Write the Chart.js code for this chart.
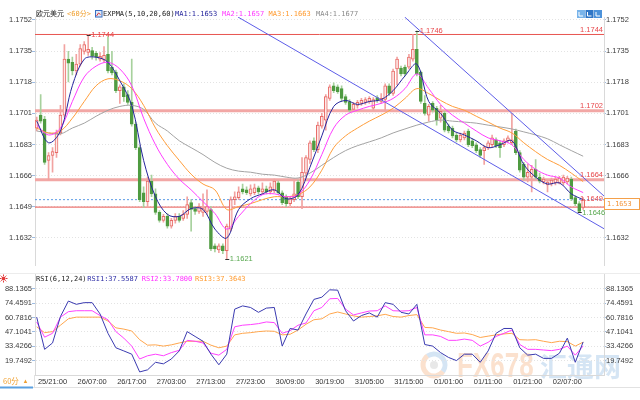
<!DOCTYPE html>
<html><head><meta charset="utf-8">
<script src="https://cdn.jsdelivr.net/npm/chart.js@4"></script>
<style>
html,body{margin:0;padding:0;background:#fff;}
#wrap{position:relative;width:640px;height:400px;overflow:hidden;background:#fff;}
#c1{position:absolute;left:0;top:0;}
#c2{position:absolute;left:0;top:270px;}
</style></head><body>
<div id="wrap"><canvas id="c1" width="640" height="270"></canvas><canvas id="c2" width="640" height="130"></canvas></div>
<script>
// ---------------- DATA ----------------
const pairName = '欧元美元';
const period = '<60分>';
const tickIdx = [4,14,24,34,44,54,64,74,84,94,104,114,124,134];
const tickText = ['25/21:00','26/07:00','26/17:00','27/03:00','27/13:00','27/23:00','30/09:00','30/19:00','31/05:00','31/15:00','01/01:00','01/11:00','01/21:00','02/07:00'];
const priceTicks = [1.1632,1.16491,1.16663,1.16834,1.17006,1.17177,1.17349,1.1752];
const rsiTicks = [19.7492,33.4266,47.1041,60.7816,74.4591,88.1365];

const openP = [
1.16925,1.16996,1.16974,1.16747,1.16774,1.16790,1.16898,1.16996,1.17304,1.17287,
1.17239,1.17277,1.17347,1.17341,1.17352,1.17336,1.17304,1.17298,1.17331,1.17260,
1.17233,1.17131,1.17152,1.17109,1.17066,1.16947,1.16817,1.16569,1.16520,1.16633,
1.16563,1.16461,1.16417,1.16439,1.16385,1.16417,1.16439,1.16428,1.16450,1.16515,
1.16482,1.16466,1.16461,1.16466,1.16477,1.16277,1.16255,1.16277,1.16250,1.16369,
1.16531,1.16542,1.16590,1.16585,1.16563,1.16569,1.16596,1.16574,1.16590,1.16574,
1.16579,1.16623,1.16569,1.16547,1.16509,1.16531,1.16628,1.16547,1.16677,1.16752,
1.16855,1.16806,1.16936,1.16969,1.17088,1.17158,1.17152,1.17142,1.17098,1.17071,
1.17028,1.17050,1.17061,1.17066,1.17071,1.17034,1.17093,1.17071,1.17082,1.17158,
1.17115,1.17250,1.17255,1.17260,1.17260,1.17304,1.17358,1.17233,1.17061,1.16996,
1.17061,1.17034,1.16979,1.17006,1.16936,1.16925,1.16887,1.16860,1.16871,1.16909,
1.16855,1.16833,1.16806,1.16801,1.16817,1.16833,1.16860,1.16844,1.16833,1.16855,
1.16844,1.16909,1.16790,1.16725,1.16655,1.16655,1.16698,1.16655,1.16628,1.16612,
1.16617,1.16623,1.16623,1.16623,1.16628,1.16644,1.16542,1.16509,1.16488];
const highP = [
1.16985,1.17109,1.16990,1.16790,1.16817,1.16914,1.17050,1.17385,1.17347,1.17315,
1.17331,1.17385,1.17401,1.17439,1.17369,1.17347,1.17341,1.17374,1.17428,1.17347,
1.17244,1.17163,1.17169,1.17131,1.17304,1.16958,1.16828,1.16601,1.16655,1.16666,
1.16590,1.16471,1.16450,1.16455,1.16428,1.16455,1.16455,1.16471,1.16547,1.16531,
1.16493,1.16509,1.16563,1.16585,1.16493,1.16288,1.16288,1.16288,1.16396,1.16547,
1.16574,1.16601,1.16617,1.16601,1.16612,1.16617,1.16606,1.16623,1.16606,1.16623,
1.16644,1.16633,1.16579,1.16558,1.16547,1.16639,1.16639,1.16763,1.16774,1.16855,
1.16871,1.16958,1.17006,1.17109,1.17163,1.17174,1.17163,1.17158,1.17109,1.17082,
1.17066,1.17077,1.17088,1.17093,1.17098,1.17093,1.17104,1.17115,1.17169,1.17169,
1.17250,1.17315,1.17266,1.17271,1.17331,1.17439,1.17460,1.17239,1.17104,1.17055,
1.17071,1.17044,1.17050,1.17017,1.16947,1.16936,1.16898,1.16898,1.16909,1.16920,
1.16866,1.16844,1.16817,1.16828,1.16855,1.16887,1.16871,1.16855,1.16866,1.16882,
1.17006,1.16920,1.16801,1.16736,1.16725,1.16720,1.16752,1.16677,1.16655,1.16639,
1.16650,1.16655,1.16660,1.16666,1.16660,1.16655,1.16552,1.16520,1.16542];
const lowP = [
1.16909,1.16952,1.16725,1.16639,1.16682,1.16763,1.16887,1.16985,1.17179,1.17217,
1.17217,1.17266,1.17331,1.17325,1.17304,1.17298,1.17293,1.17287,1.17228,1.17217,
1.17120,1.17061,1.17071,1.17055,1.16936,1.16806,1.16520,1.16488,1.16488,1.16547,
1.16450,1.16407,1.16407,1.16374,1.16374,1.16401,1.16407,1.16417,1.16428,1.16358,
1.16450,1.16455,1.16439,1.16450,1.16250,1.16244,1.16239,1.16234,1.16206,1.16358,
1.16504,1.16531,1.16563,1.16558,1.16552,1.16558,1.16563,1.16563,1.16563,1.16563,
1.16569,1.16558,1.16504,1.16493,1.16498,1.16520,1.16536,1.16482,1.16655,1.16731,
1.16795,1.16790,1.16925,1.16914,1.17077,1.17120,1.17115,1.17071,1.17055,1.17012,
1.17017,1.17034,1.17050,1.17055,1.17061,1.17023,1.17066,1.17061,1.17017,1.17104,
1.17104,1.17163,1.17212,1.17212,1.17250,1.17293,1.17212,1.17061,1.16996,1.16963,
1.17012,1.16941,1.16958,1.16904,1.16898,1.16871,1.16849,1.16849,1.16860,1.16822,
1.16817,1.16790,1.16763,1.16725,1.16806,1.16822,1.16817,1.16763,1.16822,1.16844,
1.16833,1.16779,1.16682,1.16639,1.16628,1.16574,1.16644,1.16623,1.16617,1.16574,
1.16606,1.16612,1.16617,1.16612,1.16617,1.16525,1.16498,1.16461,1.16477];
const closeP = [
1.16969,1.16963,1.16736,1.16774,1.16795,1.16898,1.16996,1.17304,1.17282,1.17239,
1.17277,1.17363,1.17385,1.17358,1.17320,1.17315,1.17320,1.17325,1.17239,1.17228,
1.17131,1.17152,1.17098,1.17066,1.16947,1.16817,1.16531,1.16520,1.16633,1.16563,
1.16461,1.16417,1.16439,1.16385,1.16417,1.16439,1.16417,1.16450,1.16504,1.16477,
1.16466,1.16493,1.16482,1.16493,1.16260,1.16260,1.16277,1.16250,1.16385,1.16531,
1.16547,1.16574,1.16574,1.16569,1.16590,1.16596,1.16574,1.16590,1.16574,1.16601,
1.16633,1.16569,1.16515,1.16509,1.16536,1.16563,1.16547,1.16682,1.16763,1.16844,
1.16806,1.16941,1.16990,1.17098,1.17152,1.17131,1.17125,1.17088,1.17066,1.17023,
1.17055,1.17066,1.17077,1.17082,1.17088,1.17082,1.17077,1.17088,1.17158,1.17115,
1.17239,1.17304,1.17223,1.17223,1.17315,1.17358,1.17223,1.17071,1.17006,1.17044,
1.17023,1.16969,1.17017,1.16914,1.16909,1.16882,1.16860,1.16887,1.16898,1.16833,
1.16828,1.16801,1.16774,1.16817,1.16844,1.16871,1.16828,1.16817,1.16855,1.16871,
1.16860,1.16790,1.16693,1.16655,1.16682,1.16698,1.16655,1.16633,1.16644,1.16628,
1.16639,1.16644,1.16650,1.16655,1.16650,1.16536,1.16509,1.16466,1.16531];

// EXPMA lines, read every 3 bars (bar index = 3*k)
const emaStep = 3;
const ema5 = [1.16963,1.16844,1.16909,1.17158,1.17304,1.17315,1.17287,1.17185,1.17050,1.16747,
1.16547,1.16450,1.16439,1.16482,1.16477,1.16369,1.16320,1.16477,1.16536,1.16563,
1.16585,1.16536,1.16558,1.16709,1.16882,1.17044,1.17077,1.17055,1.17071,1.17082,
1.17131,1.17212,1.17277,1.17071,1.17006,1.16914,1.16887,1.16855,1.16817,1.16833,
1.16855,1.16725,1.16655,1.16617,1.16623,1.16563,1.16531];
const ema10 = [1.16941,1.16887,1.16925,1.17071,1.17206,1.17266,1.17287,1.17250,1.17158,1.16979,
1.16833,1.16725,1.16644,1.16585,1.16520,1.16455,1.16369,1.16439,1.16509,1.16558,
1.16563,1.16547,1.16558,1.16639,1.16779,1.16925,1.16996,1.17023,1.17044,1.17061,
1.17088,1.17142,1.17223,1.17142,1.17055,1.16996,1.16952,1.16909,1.16871,1.16855,
1.16833,1.16752,1.16698,1.16666,1.16650,1.16601,1.16570];
const ema20 = [1.16925,1.16898,1.16909,1.16979,1.17071,1.17158,1.17196,1.17185,1.17142,1.17050,
1.16925,1.16828,1.16747,1.16671,1.16617,1.16585,1.16477,1.16493,1.16509,1.16531,
1.16547,1.16547,1.16558,1.16601,1.16693,1.16817,1.16882,1.16925,1.16963,1.16996,
1.17034,1.17088,1.17142,1.17115,1.17077,1.17044,1.17023,1.16990,1.16958,1.16925,
1.16898,1.16844,1.16795,1.16752,1.16720,1.16677,1.16630];
const ema60 = [1.16909,1.16898,1.16893,1.16925,1.16952,1.16990,1.17023,1.17044,1.17050,1.17028,
1.16952,1.16909,1.16855,1.16817,1.16779,1.16736,1.16704,1.16688,1.16682,1.16671,
1.16666,1.16655,1.16650,1.16677,1.16720,1.16763,1.16801,1.16828,1.16849,1.16871,
1.16898,1.16920,1.16941,1.16958,1.16969,1.16963,1.16958,1.16952,1.16941,1.16931,
1.16920,1.16904,1.16887,1.16866,1.16833,1.16801,1.16770];

// RSI lines, read every 2 bars (bar index = 2*k)
const rsiStep = 2;
const rsi6 = [61.2,30.5,36.6,61.8,76.5,73.4,75.0,75.0,64.2,45.8,
32.0,29.0,25.9,9.0,11.0,18.2,16.7,21.3,29.0,47.4,
42.8,38.2,25.9,15.8,25.9,68.8,71.9,70.4,65.8,69.8,
70.4,33.6,50.4,48.9,64.2,78.1,80.2,87.2,86.9,67.3,
57.5,62.7,65.2,61.2,75.0,73.4,65.8,64.2,73.4,35.1,
33.6,27.4,22.8,19.8,25.9,25.9,18.2,29.0,45.8,50.4,
50.4,32.0,25.0,25.9,21.9,21.9,26.8,41.2,18.2,37.5587];
const rsi12 = [56.6,42.1,45.8,61.2,66.4,67.3,67.3,67.3,62.7,58.7,
47.4,41.2,33.6,21.3,24.4,25.9,24.4,27.4,29.6,39.1,
38.2,36.6,26.8,25.0,30.5,52.0,53.5,54.1,55.0,56.6,
56.0,45.8,48.3,53.5,55.6,67.3,70.4,78.7,79.0,68.8,
63.3,65.2,67.0,67.3,71.9,67.3,67.0,67.3,70.4,44.3,
44.3,42.8,39.1,39.1,40.3,39.1,33.6,37.2,42.8,45.8,
48.9,35.1,30.5,30.5,29.9,29.3,30.5,33.6,25.0,33.78];
const rsi24 = [52.0,46.4,47.4,53.5,59.6,61.2,61.2,61.2,61.2,57.5,
51.0,49.8,48.0,39.7,34.5,34.8,33.6,34.8,36.6,38.2,
38.2,38.2,34.5,32.0,33.6,44.3,45.8,46.4,47.4,48.0,
47.7,44.3,44.9,48.9,54.4,58.7,59.6,64.2,66.1,64.2,
62.4,61.2,61.8,62.4,63.9,61.8,61.2,62.7,63.6,51.4,
51.0,48.9,47.4,45.8,46.1,44.6,41.8,43.1,44.3,45.2,
45.8,39.7,39.4,39.7,38.2,36.9,38.2,37.9,33.6,37.3643];

// support / resistance levels, trend channel (bar index, price)
const levels = [1.1744, 1.1702, 1.1664, 1.1649];
const trendUpper = [[92.93, 1.17536], [143.26, 1.16551]];
const trendLower = [[50.83, 1.17536], [143.26, 1.16371]];
// bars whose extreme is marked
const markHigh = [13, 96];
const markLow = [48, 137];

// ---------------- CHART ----------------
const X_MIN = -0.43, X_MAX = 143.26;
const P_MIN = 1.161686, P_MAX = 1.175362;
const R_MIN = 6.0717, R_MAX = 101.814;
const SANS = '"Liberation Sans", Arial, sans-serif';
const MONO = '"DejaVu Sans Mono", "Noto Sans CJK SC", monospace';
Chart.defaults.font.family = SANS;

const up = closeP.map((c, i) => c >= openP[i]);
const UP_EDGE = '#e86a66', UP_FILL = '#fde9e8', DN = '#4f9b41';
const UP_WICK = '#f2a3a1', DN_WICK = '#a7d19d';
const C_MA1 = '#25259c', C_MA2 = '#ff3cff', C_MA3 = '#ff9d3a', C_MA4 = '#a3a3a3';

const lineDs = (arr, step, color, order) => ({
  type: 'line', data: arr.map((v, k) => ({x: k * step, y: v})),
  borderColor: color, borderWidth: 1, pointRadius: 0, tension: 0.35, fill: false, order
});
const segDs = (pts, color, width, order, dash) => ({
  type: 'line', data: pts.map(p => ({x: p[0], y: p[1]})),
  borderColor: color, borderWidth: width, pointRadius: 0, fill: false, order,
  borderDash: dash || [], tension: 0
});

const lastClose = closeP[closeP.length - 1];
const levelStyle = [['#e85550', 1], ['#f2a7a5', 3], ['#f2a7a5', 3], ['#e85550', 1]];

const yAxisBase = (pos, w) => ({
  position: pos, axis: 'y', min: P_MIN, max: P_MAX,
  afterBuildTicks: s => { s.ticks = priceTicks.map(v => ({value: v})); },
  afterFit: s => { s.width = w; },
  ticks: {callback: v => Number(v).toFixed(4), font: {size: 7.5, family: SANS}, color: '#3c3c3c', padding: 0, autoSkip: false},
  grid: {color: '#e3e3e3', tickColor: '#9fbde3', tickLength: pos === 'left' ? 3 : 2, drawOnChartArea: pos === 'left'},
  border: {display: true, color: '#d9d9d9', dash: [1, 2]}
});

const mainDeco = {
  id: 'mainDeco',
  afterDraw(chart) {
    const {ctx, chartArea: a, scales: {x, y}} = chart;
    ctx.save();
    // level labels
    ctx.font = '7.5px ' + SANS; ctx.textAlign = 'right'; ctx.textBaseline = 'middle';
    levels.forEach((L, k) => {
      const py = y.getPixelForValue(L);
      ctx.fillStyle = '#e8474b';
      ctx.fillText(L.toFixed(4), a.right - 1, py - (k === 3 ? 8 : 4.5));
    });
    // extreme markers
    ctx.textAlign = 'left';
    const mark = (i, v, col) => {
      const px = x.getPixelForValue(i), py = y.getPixelForValue(v);
      ctx.strokeStyle = '#333'; ctx.lineWidth = 1;
      ctx.beginPath(); ctx.moveTo(px - 1.5, Math.round(py) + 0.5); ctx.lineTo(px + 2.5, Math.round(py) + 0.5); ctx.stroke();
      ctx.fillStyle = col; ctx.fillText(v.toFixed(4), px + 3, py + 0.5);
    };
    markHigh.forEach(i => mark(i, highP[i], '#e8474b'));
    markLow.forEach(i => mark(i, lowP[i], '#58a84f'));
    // current price box on right axis
    const cy = Math.round(y.getPixelForValue(lastClose) + 4);
    ctx.fillStyle = '#fff'; ctx.fillRect(a.right + 0.5, cy - 5.5, 35, 11);
    ctx.strokeStyle = '#f4a04a'; ctx.lineWidth = 1; ctx.strokeRect(a.right + 0.5, cy - 5.5, 35, 11);
    ctx.fillStyle = '#f39236'; ctx.font = '6.8px ' + MONO;
    ctx.fillText(lastClose.toFixed(4), a.right + 3, cy + 0.5);
    // title row
    const ty = 14;
    ctx.font = '7px ' + MONO;
    ctx.fillStyle = '#222'; ctx.fillText(pairName, 36, ty);
    ctx.fillStyle = '#f0a030'; ctx.fillText(period, 67, ty);
    ctx.fillStyle = '#dce9f8'; ctx.fillRect(95, 10.5, 7, 7);
    ctx.strokeStyle = '#3b6ec2'; ctx.strokeRect(95.5, 10.5, 6.5, 6.5);
    ctx.strokeStyle = '#d33'; ctx.beginPath(); ctx.moveTo(96.5, 16); ctx.lineTo(98.5, 13); ctx.lineTo(100.5, 14.5); ctx.stroke();
    ctx.fillStyle = '#222'; ctx.fillText('EXPMA(5,10,20,60)', 103, ty);
    const emas = [ema5, ema10, ema20, ema60], cols = [C_MA1, C_MA2, '#ff9a2e', '#8a8a8a'];
    [175, 222, 268.5, 316].forEach((tx, k) => {
      ctx.fillStyle = cols[k];
      ctx.fillText('MA' + (k + 1) + ':' + emas[k][emas[k].length - 1].toFixed(4), tx, ty);
    });
    // top-right tool icons
    [['#79b4ea', 577], ['#2f76c6', 585.5], ['#4c92da', 594]].forEach(([c, ix]) => {
      ctx.fillStyle = c; ctx.fillRect(ix, 10, 8, 8);
      ctx.strokeStyle = '#fff'; ctx.beginPath();
      ctx.moveTo(ix + 2, 12); ctx.lineTo(ix + 2, 16); ctx.lineTo(ix + 6, 16); ctx.stroke();
    });
    ctx.restore();
  }
};

const datasets = [];
levels.forEach((L, k) => datasets.push(segDs([[X_MIN, L], [X_MAX, L]], levelStyle[k][0], levelStyle[k][1], 60)));
datasets.push(segDs([[X_MIN, lastClose], [X_MAX, lastClose]], '#5b9be6', 1, 59, [2, 2]));
datasets.push({
  type: 'bar', data: closeP.map((c, i) => ({x: i, y: [lowP[i], highP[i]]})),
  backgroundColor: up.map(u => u ? UP_WICK : DN_WICK), borderWidth: 0,
  barThickness: 1, grouped: false, minBarLength: 1, order: 40
});
datasets.push({
  type: 'bar', data: closeP.map((c, i) => ({x: i, y: [openP[i], c]})),
  backgroundColor: up.map(u => u ? UP_FILL : DN), borderColor: up.map(u => u ? UP_EDGE : DN),
  borderWidth: 1, borderSkipped: false, barThickness: 3, grouped: false, minBarLength: 1, order: 35
});
datasets.push(lineDs(ema60, emaStep, C_MA4, 30));
datasets.push(lineDs(ema20, emaStep, C_MA3, 29));
datasets.push(lineDs(ema10, emaStep, C_MA2, 28));
datasets.push(lineDs(ema5, emaStep, C_MA1, 27));
datasets.push(segDs(trendUpper, '#5d5de8', 1, 2));
datasets.push(segDs(trendLower, '#5d5de8', 1, 2));

new Chart(document.getElementById('c1'), {
  type: 'bar',
  data: {datasets},
  options: {
    responsive: false, animation: false, devicePixelRatio: 1, events: [],
    layout: {padding: {top: 17, left: 0, right: 0, bottom: 0}},
    plugins: {legend: {display: false}, tooltip: {enabled: false}},
    scales: {
      x: {type: 'linear', min: X_MIN, max: X_MAX, offset: false, display: false},
      y: yAxisBase('left', 35),
      yR: yAxisBase('right', 36)
    }
  },
  plugins: [mainDeco]
});

// ---------------- RSI ----------------
const rAxis = (pos, w) => ({
  position: pos, axis: 'y', min: R_MIN, max: R_MAX,
  afterBuildTicks: s => { s.ticks = rsiTicks.map(v => ({value: v})); },
  afterFit: s => { s.width = w; },
  ticks: {callback: v => Number(v).toFixed(4), font: {size: 7.5, family: SANS}, color: '#3c3c3c', padding: 0, autoSkip: false},
  grid: {color: '#e3e3e3', tickColor: '#9fbde3', tickLength: pos === 'left' ? 3 : 2, drawOnChartArea: pos === 'left'},
  border: {display: true, color: '#d9d9d9', dash: [1, 2]}
});

const rsiDeco = {
  id: 'rsiDeco',
  beforeDraw(chart) {
    const ctx = chart.ctx;
    ctx.save();
    // watermark
    ctx.globalAlpha = 0.33;
    ctx.lineWidth = 5;
    ctx.strokeStyle = '#f3a46b'; ctx.beginPath(); ctx.arc(434, 95, 11, 0.2 * Math.PI, 1.3 * Math.PI); ctx.stroke();
    ctx.strokeStyle = '#7fb0de'; ctx.beginPath(); ctx.arc(434, 95, 11, 1.3 * Math.PI, 2.2 * Math.PI); ctx.stroke();
    ctx.fillStyle = '#b9b9b9'; ctx.beginPath(); ctx.arc(434, 95, 4, 0, 2 * Math.PI); ctx.fill();
    ctx.save(); ctx.translate(457, 107); ctx.scale(1, 1.35);
    ctx.font = 'bold 26px ' + SANS; ctx.fillStyle = '#f3a46b'; ctx.textBaseline = 'alphabetic';
    ctx.fillText('FX678', 0, 0); ctx.restore();
    ctx.font = 'bold 27px "Noto Sans CJK SC"'; ctx.fillStyle = '#7fb0de'; ctx.textBaseline = 'bottom';
    ctx.fillText('汇通网', 540, 110);
    ctx.restore();
  },
  afterDraw(chart) {
    const {ctx, chartArea: a} = chart;
    ctx.save();
    ctx.strokeStyle = '#ececec'; ctx.lineWidth = 1;
    ctx.beginPath(); ctx.moveTo(0, 3.5); ctx.lineTo(640, 3.5); ctx.stroke();
    // red icon
    ctx.fillStyle = '#e23b3b'; ctx.strokeStyle = '#e23b3b';
    ctx.beginPath(); ctx.arc(3.5, 8.5, 2, 0, 2 * Math.PI); ctx.fill();
    for (let k = 0; k < 8; k++) {
      const t = k * Math.PI / 4;
      ctx.beginPath(); ctx.moveTo(3.5 + Math.cos(t) * 2.5, 8.5 + Math.sin(t) * 2.5);
      ctx.lineTo(3.5 + Math.cos(t) * 4, 8.5 + Math.sin(t) * 4); ctx.stroke();
    }
    // title row
    ctx.font = '7px ' + MONO; ctx.textAlign = 'left'; ctx.textBaseline = 'middle';
    const ty = 9;
    ctx.fillStyle = '#222'; ctx.fillText('RSI(6,12,24)', 36, ty);
    const rs = [rsi6, rsi12, rsi24], cols = ['#2e2ea6', '#ff30ff', '#ff9a2e'];
    [87.3, 141.7, 195].forEach((tx, k) => {
      ctx.fillStyle = cols[k];
      ctx.fillText('RSI' + (k + 1) + ':' + rs[k][rs[k].length - 1].toFixed(4), tx, ty);
    });
    // bottom bar
    ctx.strokeStyle = '#e2e2e2';
    ctx.beginPath(); ctx.moveTo(0, 117.5); ctx.lineTo(640, 117.5); ctx.stroke();
    ctx.beginPath(); ctx.moveTo(34.5, 105); ctx.lineTo(34.5, 117); ctx.stroke();
    ctx.strokeStyle = '#5aa0e0'; ctx.lineWidth = 2;
    ctx.beginPath(); ctx.moveTo(0, 117.5); ctx.lineTo(33, 117.5); ctx.stroke();
    ctx.fillStyle = '#f0a030'; ctx.font = '7.5px "Noto Sans CJK SC", ' + SANS;
    ctx.fillText('60分', 3, 111.5);
    ctx.font = '6px ' + SANS; ctx.fillText('▲', 22.5, 111.5);
    ctx.restore();
  }
};

new Chart(document.getElementById('c2'), {
  type: 'line',
  data: {datasets: [
    {data: rsi24.map((v, k) => ({x: k * rsiStep, y: v})), borderColor: '#ffa64d', borderWidth: 1, pointRadius: 0, tension: 0, order: 3},
    {data: rsi12.map((v, k) => ({x: k * rsiStep, y: v})), borderColor: '#ff40ff', borderWidth: 1, pointRadius: 0, tension: 0, order: 2},
    {data: rsi6.map((v, k) => ({x: k * rsiStep, y: v})), borderColor: '#3a3ab0', borderWidth: 1, pointRadius: 0, tension: 0, order: 1}
  ]},
  options: {
    responsive: false, animation: false, devicePixelRatio: 1, events: [],
    layout: {padding: {top: 1, left: 0, right: 0, bottom: 0}},
    plugins: {legend: {display: false}, tooltip: {enabled: false}},
    scales: {
      x: {type: 'linear', min: X_MIN, max: X_MAX, offset: false,
        afterBuildTicks: s => { s.ticks = tickIdx.map(v => ({value: v})); },
        afterFit: s => { s.height = 25; },
        ticks: {callback: v => tickText[tickIdx.indexOf(v)], font: {size: 7.5, family: SANS}, color: '#333', padding: 2, autoSkip: false, maxRotation: 0},
        grid: {display: false, drawTicks: false},
        border: {display: true, color: '#d9d9d9'}
      },
      y: rAxis('left', 35),
      yR: rAxis('right', 36)
    }
  },
  plugins: [rsiDeco]
});
</script>
</body></html>
